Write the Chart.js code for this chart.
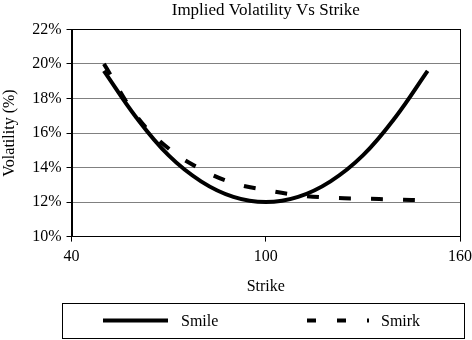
<!DOCTYPE html>
<html>
<head>
<meta charset="utf-8">
<script src="https://cdn.jsdelivr.net/npm/chart.js@4/dist/chart.umd.min.js"></script>
<style>
  html, body { margin: 0; padding: 0; background: #fff; }
  #wrap { width: 472px; height: 340px; }
</style>
</head>
<body>
<div id="wrap"><canvas id="chart" width="472" height="340"></canvas></div>
<script>
// ================== Data ==================
const strikes = [50, 60, 70, 80, 90, 100, 110, 120, 130, 140, 150];
const smile = [19.6, 16.9, 14.7, 13.2, 12.3, 12.0, 12.3, 13.2, 14.7, 16.9, 19.6];
const smirk = [20.0, 17.0, 15.1, 13.9, 13.1, 12.7, 12.4, 12.25, 12.2, 12.15, 12.1];
const yTicks = [10, 12, 14, 16, 18, 20, 22];
const xTicks = [40, 100, 160];

const FONT = "'Liberation Serif', 'Times New Roman', serif";

// frame around the plot + legend box at the bottom
const framePlugin = {
  id: "frame",
  afterDraw(chart) {
    const { ctx, chartArea: a } = chart;
    ctx.save();
    ctx.strokeStyle = "#000";
    ctx.lineWidth = 1;
    ctx.strokeRect(Math.round(a.left) + 0.5, Math.round(a.top) + 0.5,
      Math.round(a.right - a.left), Math.round(a.bottom - a.top));

    // legend
    ctx.strokeRect(62.5, 303.5, 402, 35);
    const ly = 320.5;
    const ds = chart.data.datasets;
    ctx.lineWidth = 4;
    ctx.strokeStyle = ds[0].borderColor;
    ctx.beginPath(); ctx.moveTo(103, ly); ctx.lineTo(168, ly); ctx.stroke();
    ctx.setLineDash([9, 21]);
    ctx.strokeStyle = ds[1].borderColor;
    ctx.beginPath(); ctx.moveTo(307, ly); ctx.lineTo(369, ly); ctx.stroke();
    ctx.setLineDash([]);
    ctx.fillStyle = "#000";
    ctx.font = "16px " + FONT;
    ctx.textBaseline = "middle";
    ctx.textAlign = "left";
    ctx.fillText(ds[0].label, 181, ly + 1);
    ctx.fillText(ds[1].label, 381, ly + 1);
    ctx.restore();
  },
};

new Chart(document.getElementById("chart"), {
  type: "line",
  data: {
    datasets: [
      {
        label: "Smile",
        data: strikes.map((x, i) => ({ x, y: smile[i] })),
        borderColor: "#000",
        borderWidth: 4,
        pointRadius: 0,
        tension: 0.4,
        fill: false,
      },
      {
        label: "Smirk",
        data: strikes.map((x, i) => ({ x, y: smirk[i] })),
        borderColor: "#000",
        borderWidth: 4,
        borderDash: [12, 20],
        borderCapStyle: "butt",
        pointRadius: 0,
        tension: 0.4,
        fill: false,
      },
    ],
  },
  options: {
    responsive: false,
    animation: false,
    layout: { padding: { left: 0, right: 12, top: 0, bottom: 44 } },
    plugins: {
      legend: { display: false },
      tooltip: { enabled: false },
      title: {
        display: true,
        fullSize: false,
        text: "Implied Volatility Vs Strike",
        color: "#000",
        font: { family: FONT, size: 17, weight: "normal" },
        padding: { top: 0, bottom: 9 },
      },
    },
    scales: {
      x: {
        type: "linear",
        min: xTicks[0],
        max: xTicks[xTicks.length - 1],
        afterBuildTicks: (s) => { s.ticks = xTicks.map((v) => ({ value: v })); },
        afterFit: (s) => { s.paddingRight = 0; s.paddingLeft = 0; },
        ticks: { color: "#000", font: { family: FONT, size: 16 }, padding: 6, maxRotation: 0 },
        grid: { drawOnChartArea: false, drawTicks: true, tickLength: 5, color: "#000" },
        border: { color: "#000", width: 1 },
        title: {
          display: true,
          text: "Strike",
          color: "#000",
          font: { family: FONT, size: 16 },
          padding: { top: 4, bottom: 0 },
        },
      },
      y: {
        min: yTicks[0],
        max: yTicks[yTicks.length - 1],
        afterBuildTicks: (s) => { s.ticks = yTicks.map((v) => ({ value: v })); },
        ticks: {
          color: "#000",
          font: { family: FONT, size: 16 },
          padding: 5,
          callback: (v) => v + "%",
        },
        grid: { color: "#808080", lineWidth: 1, tickLength: 5, tickColor: "#000" },
        border: { color: "#000", width: 1 },
        title: {
          display: true,
          text: "Volatility (%)",
          color: "#000",
          font: { family: FONT, size: 16 },
          padding: { top: 0, bottom: 8 },
        },
      },
    },
  },
  plugins: [framePlugin],
});
</script>
</body>
</html>
